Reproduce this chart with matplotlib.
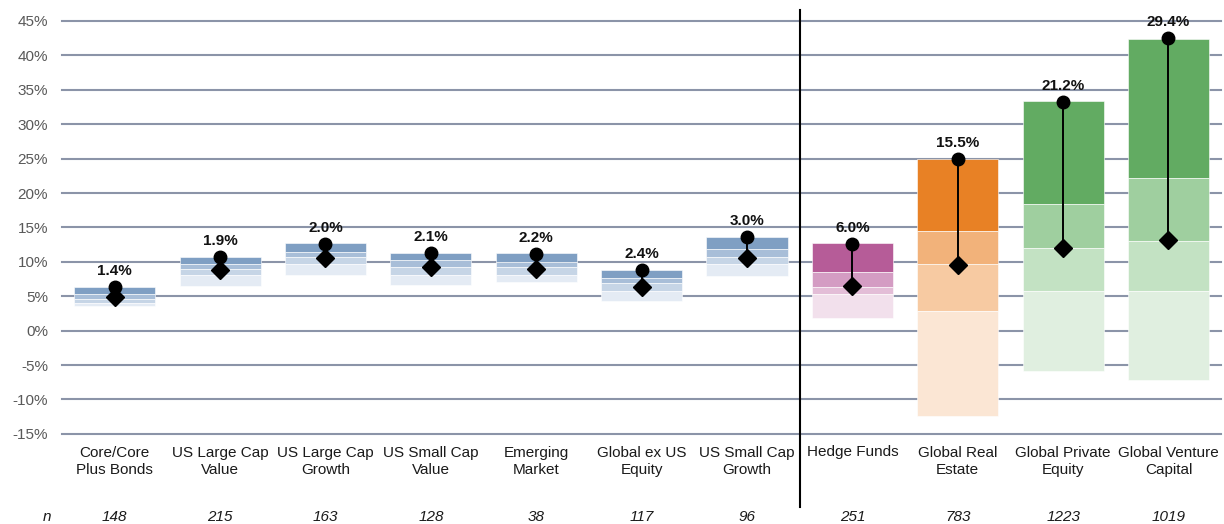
import matplotlib
matplotlib.use("Agg")
import matplotlib.pyplot as plt
from matplotlib.ticker import FuncFormatter

plt.rcParams['font.family'] = ['Liberation Sans', 'DejaVu Sans']

categories = ["Core/Core\nPlus Bonds", "US Large Cap\nValue", "US Large Cap\nGrowth",
              "US Small Cap\nValue", "Emerging\nMarket", "Global ex US\nEquity",
              "US Small Cap\nGrowth", "Hedge Funds", "Global Real\nEstate",
              "Global Private\nEquity", "Global Venture\nCapital"]
n_counts = ["148", "215", "163", "128", "38", "117", "96", "251", "783", "1223", "1019"]

# band edges (top to bottom), in %
p05 = [6.4, 10.75, 12.7, 11.35, 11.25, 8.8, 13.6, 12.75, 25.0, 33.4, 42.4]
p25 = [5.3, 9.65, 11.5, 10.2, 10.0, 7.7, 11.9, 8.5, 14.45, 18.4, 22.2]
p50 = [4.6, 8.9, 10.7, 9.3, 9.2, 6.9, 10.75, 6.4, 9.7, 12.0, 13.0]
p75 = [4.0, 8.1, 9.7, 8.1, 8.1, 5.8, 9.65, 5.3, 2.9, 5.7, 5.8]
p95 = [3.6, 6.5, 8.05, 6.6, 7.0, 4.35, 8.0, 1.9, -12.4, -5.8, -7.2]

circle_vals = [6.3, 10.65, 12.55, 11.35, 11.2, 8.75, 13.6, 12.55, 25.0, 33.2, 42.5]
diamond_vals = [4.9, 8.8, 10.6, 9.3, 9.0, 6.4, 10.6, 6.5, 9.55, 12.0, 13.1]
spread_labels = ["1.4%", "1.9%", "2.0%", "2.1%", "2.2%", "2.4%", "3.0%", "6.0%", "15.5%", "21.2%", "29.4%"]

palettes = {
    "blue": ["#7f9fc3", "#a8bed8", "#c6d5e6", "#e4ebf4"],
    "purple": ["#b65c98", "#d49cc3", "#e3bdd7", "#f2e0ec"],
    "orange": ["#e88125", "#f2b27a", "#f7caa2", "#fbe6d4"],
    "green": ["#62ab62", "#9fcf9f", "#c3e2c3", "#e0efe0"],
}
cat_palette = ["blue"] * 7 + ["purple", "orange", "green", "green"]

fig = plt.figure(figsize=(12.24, 5.24), dpi=100)
ax = fig.add_axes([0.0507, 0.172, 0.947, 0.788])

ax.set_ylim(-15, 45)
ax.set_xlim(-0.5, len(categories) - 0.5)
ax.set_yticks(range(-15, 46, 5))
ax.yaxis.set_major_formatter(FuncFormatter(lambda v, p: f"{int(v)}%"))
ax.grid(axis='y', color='#8b94a8', linewidth=1.5, zorder=0)
for gl in ax.get_ygridlines():
    gl.set_clip_on(False)
ax.set_axisbelow(True)
for s in ax.spines.values():
    s.set_visible(False)
ax.tick_params(axis='y', length=0, labelsize=11, labelcolor='#595959', pad=10)
ax.tick_params(axis='x', length=0)
ax.set_xticks([])

width = 0.77
for i in range(len(categories)):
    edges = [p05[i], p25[i], p50[i], p75[i], p95[i]]
    cols = palettes[cat_palette[i]]
    for k in range(4):
        top, bot = edges[k], edges[k + 1]
        ax.bar(i, top - bot, bottom=bot, width=width, color=cols[k],
               edgecolor='white', linewidth=0.4, zorder=2)
    ax.plot([i, i], [diamond_vals[i], circle_vals[i]], color='black', lw=1.4, zorder=3)
    ax.plot(i, circle_vals[i], marker='o', ms=9, color='black', zorder=4)
    ax.plot(i, diamond_vals[i], marker='D', ms=9, color='black', zorder=4)
    ax.annotate(spread_labels[i], (i, circle_vals[i]), xytext=(0, 6.5),
                textcoords='offset points', ha='center', va='bottom',
                fontsize=11, fontweight='bold', color='#111111', zorder=5)
    label_y = -19.05 if "\n" in categories[i] else -17.65
    ax.text(i, label_y, categories[i], ha='center', va='center', fontsize=11,
            color='#1a1a1a', linespacing=1.27, clip_on=False)
    ax.text(i, -27.1, n_counts[i], ha='center', va='center', fontsize=11,
            style='italic', color='#1a1a1a', clip_on=False)

ax.text(-0.64, -27.1, "n", ha='center', va='center', fontsize=11,
        style='italic', color='#1a1a1a', clip_on=False)

# separator between traditional and alternative asset classes
ax.plot([6.5, 6.5], [46.6, -25.6], color='black', lw=1.5, clip_on=False, zorder=6)

fig.savefig("out.png", dpi=100)
